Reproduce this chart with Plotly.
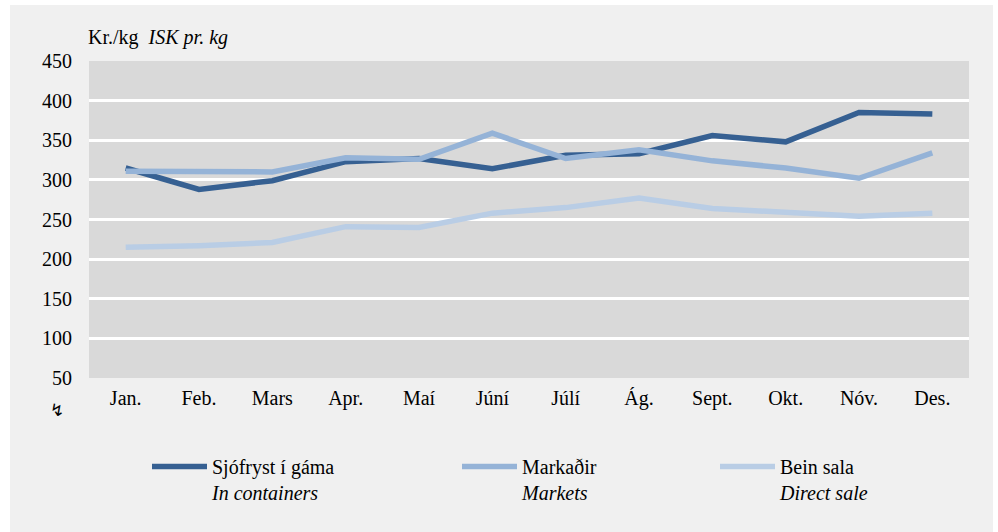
import plotly.graph_objects as go

months = ["Jan.", "Feb.", "Mars", "Apr.", "Maí", "Júní", "Júlí", "Ág.", "Sept.", "Okt.", "Nóv.", "Des."]
sjofryst = [315, 288, 299, 323, 327, 314, 331, 333, 356, 348, 385, 383]
markadir = [311, 310, 310, 328, 326, 359, 327, 338, 324, 315, 302, 334]
bein_sala = [215, 217, 221, 241, 240, 258, 265, 277, 264, 259, 254, 258]

names = ["Sjófryst í gáma<br><i>In containers</i>",
         "Markaðir<br><i>Markets</i>",
         "Bein sala<br><i>Direct sale</i>"]
colors = ["#366092", "#95B3D7", "#B9CDE5"]
series = [sjofryst, markadir, bein_sala]
legend_ids = ["legend", "legend2", "legend3"]

W, H = 998, 532
L, R, T, B = 89, 29, 61, 154
pw, ph = W - L - R, H - T - B

def px_x(x):
    return (x - L) / pw

def px_y(y):
    return (H - B - y) / ph

FONT = "Liberation Serif"

fig = go.Figure()
for name, vals, col, lg in zip(names, series, colors, legend_ids):
    fig.add_trace(go.Scatter(
        x=months, y=vals, mode="lines", name=name,
        line=dict(color=col, width=5.5),
        legend=lg,
    ))

legend_common = dict(
    orientation="v", xanchor="left", yanchor="top", valign="top",
    bgcolor="rgba(0,0,0,0)", borderwidth=0, itemwidth=55,
    font=dict(family=FONT, size=20, color="#000000"),
    tracegroupgap=0,
)
legend_left = [147, 457, 715]
legend_top = 447

fig.update_layout(
    width=W, height=H,
    margin=dict(l=L, r=R, t=T, b=B),
    paper_bgcolor="#FFFFFF",
    plot_bgcolor="#D9D9D9",
    font=dict(family=FONT, size=20, color="#000000"),
    showlegend=True,
    legend=dict(x=px_x(legend_left[0]), y=px_y(legend_top), **legend_common),
    legend2=dict(x=px_x(legend_left[1]), y=px_y(legend_top), **legend_common),
    legend3=dict(x=px_x(legend_left[2]), y=px_y(legend_top), **legend_common),
    xaxis=dict(
        type="category", range=[-0.5, 11.5], showgrid=False, zeroline=False,
        showline=False, ticks="", ticklabelstandoff=6,
        tickfont=dict(family=FONT, size=20, color="#000000"),
    ),
    yaxis=dict(
        range=[50, 450], dtick=50, tick0=50, showgrid=True, gridcolor="#FFFFFF",
        gridwidth=2.5, zeroline=False, showline=False, ticks="",
        ticklabelstandoff=16,
        tickfont=dict(family=FONT, size=20, color="#000000"),
    ),
    shapes=[
        dict(type="rect", xref="paper", yref="paper", layer="below",
             x0=px_x(10), x1=px_x(993), y0=px_y(532), y1=px_y(5),
             fillcolor="#F0F0F0", line=dict(width=0)),
        dict(type="rect", xref="paper", yref="paper", layer="below",
             x0=0, x1=1, y0=0, y1=1,
             fillcolor="#D9D9D9", line=dict(width=0)),
    ],
    annotations=[
        dict(text="Kr./kg  <i>ISK pr. kg</i>", xref="paper", yref="paper",
             x=px_x(86), y=px_y(37), xanchor="left", yanchor="middle",
             showarrow=False, font=dict(family=FONT, size=20, color="#000000")),
        dict(text="↯", xref="paper", yref="paper",
             x=px_x(57), y=px_y(410), xanchor="center", yanchor="middle",
             showarrow=False, font=dict(family="DejaVu Sans", size=17, color="#000000")),
    ],
)

fig.write_html("out.html", post_script="document.body.style.margin='0px';",
               config={"displayModeBar": False})
